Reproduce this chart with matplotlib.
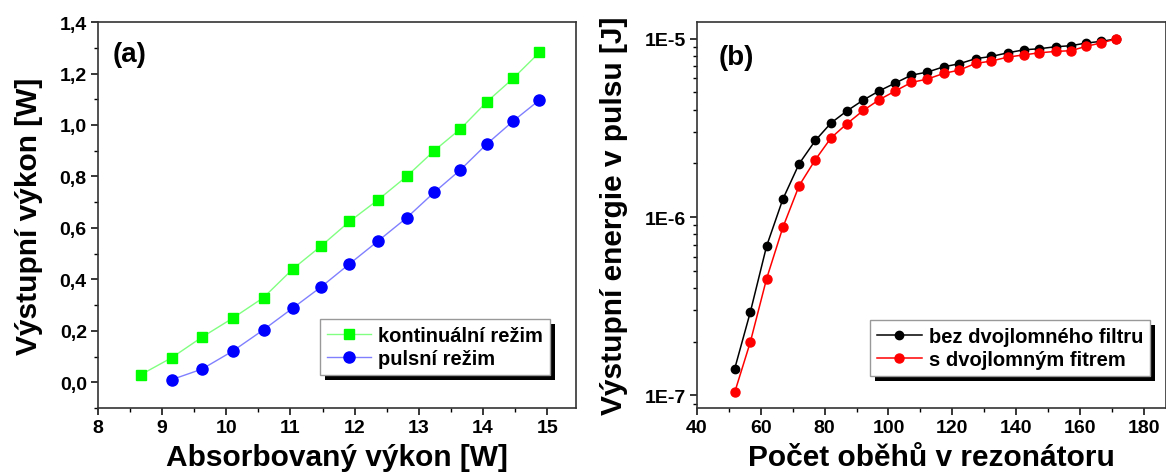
import numpy as np
import matplotlib
matplotlib.use("Agg")
from matplotlib import pyplot as plt
from matplotlib.ticker import FuncFormatter, MultipleLocator, LogLocator
from matplotlib.patches import Rectangle
from matplotlib.transforms import IdentityTransform

plt.rcParams['font.family'] = ['Liberation Sans', 'DejaVu Sans']
plt.rcParams['font.weight'] = 'bold'

# (a) output power vs absorbed power
absorbed_cw = [8.665, 9.147, 9.62, 10.1, 10.58, 11.04, 11.48, 11.92, 12.37, 12.81, 13.24, 13.65, 14.06, 14.47, 14.88]
power_cw = [0.029, 0.095, 0.175, 0.249, 0.329, 0.441, 0.530, 0.625, 0.710, 0.800, 0.900, 0.985, 1.090, 1.181, 1.282]
absorbed_pulse = [9.147, 9.62, 10.1, 10.58, 11.04, 11.48, 11.92, 12.37, 12.81, 13.24, 13.65, 14.06, 14.47, 14.88]
power_pulse = [0.010, 0.051, 0.121, 0.204, 0.289, 0.371, 0.460, 0.550, 0.639, 0.738, 0.826, 0.926, 1.015, 1.097]

# (b) pulse energy vs number of round trips
round_trips = [51.8, 56.7, 61.8, 66.9, 72.0, 77.1, 82.0, 87.0, 92.1, 97.1, 102.1, 107.2, 112.2,
               117.3, 122.2, 127.3, 132.3, 137.4, 142.5, 147.3, 152.4, 157.2, 161.9, 166.5, 171.3]
energy_no_filter = [1.41e-7, 2.93e-7, 6.87e-7, 1.26e-6, 1.99e-6, 2.69e-6, 3.37e-6, 3.94e-6, 4.53e-6,
                    5.10e-6, 5.64e-6, 6.25e-6, 6.50e-6, 6.96e-6, 7.24e-6, 7.73e-6, 7.96e-6, 8.34e-6,
                    8.67e-6, 8.79e-6, 9.02e-6, 9.14e-6, 9.46e-6, 9.66e-6, 9.96e-6]
energy_filter = [1.04e-7, 1.99e-7, 4.51e-7, 8.75e-7, 1.50e-6, 2.10e-6, 2.78e-6, 3.34e-6, 3.96e-6,
                 4.55e-6, 5.09e-6, 5.69e-6, 5.94e-6, 6.39e-6, 6.67e-6, 7.27e-6, 7.50e-6, 7.89e-6,
                 8.12e-6, 8.34e-6, 8.49e-6, 8.57e-6, 9.06e-6, 9.46e-6, 9.96e-6]

fig = plt.figure(figsize=(11.66, 4.77), dpi=100)
ax_a = fig.add_axes([0.0840, 0.1426, 0.410, 0.809])
ax_b = fig.add_axes([0.5978, 0.1426, 0.4022, 0.809])

label_font = dict(fontsize=21.5, fontweight='bold')
legend_props = dict(weight='bold', size=14.5)
legend_opts = dict(prop=legend_props, fancybox=False, shadow=False, framealpha=1,
                   edgecolor='#999999', handlelength=2.2, handletextpad=0.35, borderpad=0.35,
                   labelspacing=0.2, borderaxespad=0)


def style_axes(ax):
    for side in ['top', 'right', 'left', 'bottom']:
        ax.spines[side].set_linewidth(1.2)
        ax.spines[side].set_color('#333333')
    ax.tick_params(which='both', direction='out', top=False, right=False)
    ax.tick_params(which='major', length=5, width=1.1, labelsize=14, pad=3)
    ax.tick_params(which='minor', length=3, width=1.0)
    for lbl in ax.get_xticklabels() + ax.get_yticklabels():
        lbl.set_fontweight('bold')


# panel (a)
ax_a.plot(absorbed_cw, power_cw, color='#80ff80', lw=1.0, marker='s', ms=7,
          mfc='#00ff00', mec='#00ff00', label='kontinuální režim')
ax_a.plot(absorbed_pulse, power_pulse, color='#8080ff', lw=1.0, marker='o', ms=8,
          mfc='#0000ff', mec='#0000ff', label='pulsní režim')
ax_a.set_xlim(8, 15.45)
ax_a.set_ylim(-0.1, 1.4)
ax_a.xaxis.set_major_locator(MultipleLocator(1))
ax_a.xaxis.set_minor_locator(MultipleLocator(0.5))
ax_a.yaxis.set_major_locator(MultipleLocator(0.2))
ax_a.yaxis.set_minor_locator(MultipleLocator(0.1))
ax_a.yaxis.set_major_formatter(FuncFormatter(lambda v, p: f"{v:.1f}".replace('.', ',').replace('-0,0', '0,0')))
style_axes(ax_a)
ax_a.set_xlabel('Absorbovaný výkon [W]', labelpad=5, **label_font)
ax_a.set_ylabel('Výstupní výkon [W]', labelpad=12, **label_font)
ax_a.text(0.031, 0.917, '(a)', transform=ax_a.transAxes, fontsize=20, fontweight='bold', va='center')
leg_a = ax_a.legend(loc='lower right', bbox_to_anchor=(0.946, 0.085), **legend_opts)

# panel (b)
ax_b.plot(round_trips, energy_no_filter, color='black', lw=1.1, marker='o', ms=6,
          label='bez dvojlomného filtru')
ax_b.plot(round_trips, energy_filter, color='red', lw=1.1, marker='o', ms=6.5,
          label='s dvojlomným fitrem')
ax_b.set_yscale('log')
ax_b.set_xlim(40, 187)
ax_b.set_ylim(8.5e-8, 1.24e-5)
ax_b.xaxis.set_major_locator(MultipleLocator(20))
ax_b.xaxis.set_minor_locator(MultipleLocator(10))
ax_b.yaxis.set_major_locator(LogLocator(base=10, numticks=10))
ax_b.yaxis.set_minor_locator(LogLocator(base=10, subs=np.arange(2, 10), numticks=20))
ax_b.yaxis.set_major_formatter(FuncFormatter(lambda v, p: f"1E{int(round(np.log10(v)))}"))
ax_b.yaxis.set_minor_formatter(FuncFormatter(lambda v, p: ''))
style_axes(ax_b)
ax_b.set_xlabel('Počet oběhů v rezonátoru', labelpad=5, **label_font)
ax_b.set_ylabel('Výstupní energie v pulsu [J]', labelpad=12, **label_font)
ax_b.text(0.045, 0.91, '(b)', transform=ax_b.transAxes, fontsize=20, fontweight='bold', va='center')
leg_b = ax_b.legend(loc='lower right', bbox_to_anchor=(0.966, 0.083), **legend_opts)

# solid black drop shadow behind each legend box (Origin style)
fig.canvas.draw()
for ax, leg in [(ax_a, leg_a), (ax_b, leg_b)]:
    bb = leg.get_frame().get_window_extent()
    shadow = Rectangle((bb.x0 + 5, bb.y0 - 5), bb.width, bb.height, facecolor='black',
                       edgecolor='none', transform=IdentityTransform(), zorder=4.9, clip_on=False)
    ax.add_artist(shadow)

fig.savefig('out.png', dpi=100)
